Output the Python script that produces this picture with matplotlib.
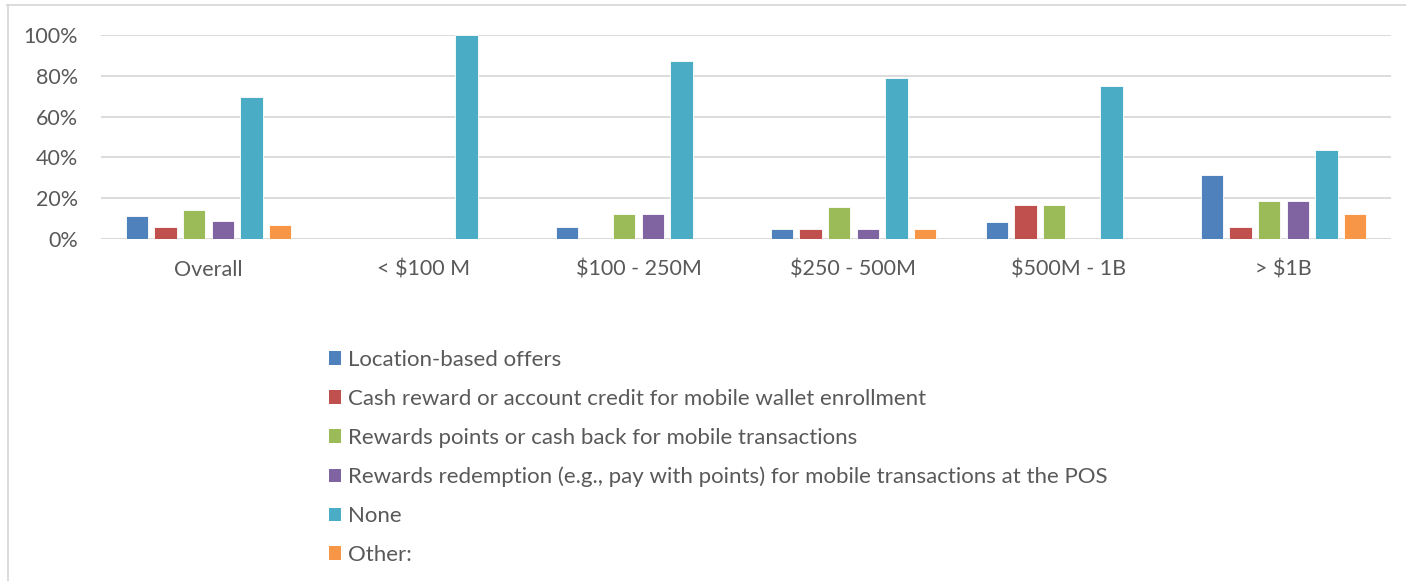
import numpy as np
import matplotlib.pyplot as plt
from matplotlib.patches import Patch
from matplotlib.lines import Line2D
from matplotlib.ticker import PercentFormatter

groups = ['Overall', '< $100 M', '$100 - 250M', '$250 - 500M', '$500M - 1B', '> $1B']
series = [
    'Location-based offers',
    'Cash reward or account credit for mobile wallet enrollment',
    'Rewards points or cash back for mobile transactions',
    'Rewards redemption (e.g., pay with points) for mobile transactions at the POS',
    'None',
    'Other:',
]
colors = ['#4F81BD', '#C0504D', '#9BBB59', '#8064A2', '#4BACC6', '#F79646']

location = [11.4, 0, 6.0, 5.1, 8.2, 31.2]
cash_reward = [5.7, 0, 0, 5.1, 16.7, 6.0]
reward_points = [14.4, 0, 12.4, 15.7, 16.7, 18.6]
redemption = [8.7, 0, 12.4, 5.1, 0, 18.6]
none = [69.6, 100, 87.4, 78.9, 75.0, 43.6]
other = [7.0, 0, 0, 5.1, 0, 12.4]
values = [location, cash_reward, reward_points, redemption, none, other]

plt.rcParams['font.family'] = ['Lato', 'DejaVu Sans']
text_color = '#595959'
grid_color = '#D9D9D9'

fig = plt.figure(figsize=(14.06, 5.81), dpi=100)
ax = fig.add_axes([101 / 1406, 1 - 239 / 581, 1290 / 1406, 204 / 581])

x = np.arange(len(groups))
step = 0.1333
width = 0.104
for i, (vals, c) in enumerate(zip(values, colors)):
    ax.bar(x + (i - 2.5) * step, np.array(vals) / 100, width, color=c,
           edgecolor='white', linewidth=0.6, zorder=3)

ax.set_xlim(-0.5, len(groups) - 0.5)
ax.set_ylim(0, 1.0)
ax.set_yticks(np.arange(0, 1.01, 0.2))
ax.yaxis.set_major_formatter(PercentFormatter(1.0, decimals=0))
ax.set_xticks(x)
ax.set_xticklabels(groups)
ax.tick_params(axis='both', length=0, labelsize=15.5, labelcolor=text_color)
ax.tick_params(axis='x', pad=15)
ax.tick_params(axis='y', pad=16.5)
ax.grid(axis='y', color=grid_color, linewidth=1.3, zorder=0)
for s in ax.spines.values():
    s.set_visible(False)
ax.axhline(0, color=grid_color, linewidth=1.3, zorder=2)

# outer chart border (top and left only visible)
fig.add_artist(Line2D([7 / 1406, 1.0], [1 - 5 / 581, 1 - 5 / 581], color=grid_color, linewidth=1.3))
fig.add_artist(Line2D([8 / 1406, 8 / 1406], [0, 1 - 5 / 581], color=grid_color, linewidth=1.3))

handles = [Patch(facecolor=c, edgecolor='none') for c in colors]
fig.legend(handles, series, loc='upper left', bbox_to_anchor=(309 / 1406, 1 - 330 / 581),
           frameon=False, fontsize=16, labelcolor=text_color,
           handlelength=0.55, handleheight=0.55, handletextpad=0.3, labelspacing=0.85)

fig.savefig('out.png', dpi=100)
